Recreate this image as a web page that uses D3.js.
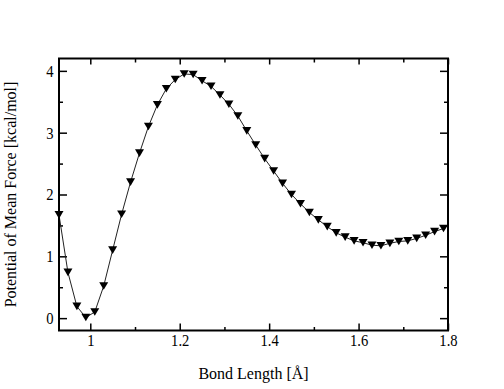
<!DOCTYPE html>
<html>
<head>
<meta charset="utf-8">
<script src="https://cdn.jsdelivr.net/npm/d3@7"></script>
<style>
  body { margin: 0; background: #fff; }
  svg text { font-family: "Liberation Serif", "Times New Roman", Times, serif; fill: #000; }
</style>
</head>
<body>
<svg id="chart" width="504" height="389"></svg>
<script>
// bond length (Å) and potential of mean force (kcal/mol)
const bondLength = [
  0.93, 0.95, 0.97, 0.99, 1.01, 1.03, 1.05, 1.07, 1.09,
  1.11, 1.13, 1.15, 1.17, 1.19, 1.21, 1.23, 1.25, 1.27, 1.29,
  1.31, 1.33, 1.35, 1.37, 1.39, 1.41, 1.43, 1.45, 1.47, 1.49,
  1.51, 1.53, 1.55, 1.57, 1.59, 1.61, 1.63, 1.65, 1.67, 1.69,
  1.71, 1.73, 1.75, 1.77, 1.79
]
const pmf = [
  1.67, 0.74, 0.19, 0.01, 0.10, 0.52, 1.10, 1.68, 2.20,
  2.67, 3.10, 3.45, 3.71, 3.86, 3.95, 3.94, 3.84, 3.75, 3.61,
  3.46, 3.27, 3.03, 2.80, 2.58, 2.38, 2.18, 2.00, 1.85, 1.71,
  1.59, 1.48, 1.38, 1.31, 1.25, 1.22, 1.18, 1.17, 1.21, 1.24,
  1.25, 1.29, 1.34, 1.40, 1.45
]
const xMajorTicks = [1, 1.2, 1.4, 1.6, 1.8]
const xMinorTicks = [1.1, 1.3, 1.5, 1.7]
const yMajorTicks = [0, 1, 2, 3, 4]
const yMinorTicks = [0.5, 1.5, 2.5, 3.5]

const margin = { left: 59, right: 56, top: 58.5, bottom: 58.5 }
const width = 504 - margin.left - margin.right
const height = 389 - margin.top - margin.bottom
const labelStretch = 0.86 // the reference digits are a little narrower than Liberation Serif

const svg = d3.select('#chart')
const plot = svg.append('g').attr('transform', `translate(${margin.left}, ${margin.top})`)

const x = d3.scaleLinear().domain([0.93, 1.8]).range([0, width])
const y = d3.scaleLinear().domain([-0.2, 4.2]).range([height, 0])

// ticks on all four sides, pointing inward
function drawAxis (axisFn, scale, transform, ticks, size, labels) {
  const axis = axisFn(scale).tickValues(ticks).tickSizeInner(-size).tickSizeOuter(0)
  axis.tickFormat(labels ? d3.format('') : '')
  const g = plot.append('g').attr('transform', transform).call(axis)
  g.attr('font-family', null)
  g.select('.domain').remove()
  g.selectAll('line').attr('stroke', '#000').attr('stroke-width', 1.5)
  g.selectAll('text').attr('font-size', 17)
  return g
}

const xAxis = drawAxis(d3.axisBottom, x, `translate(0, ${height})`, xMajorTicks, 7, true)
drawAxis(d3.axisBottom, x, `translate(0, ${height})`, xMinorTicks, 3.5, false)
drawAxis(d3.axisTop, x, 'translate(0, 0)', xMajorTicks, 6, false)
drawAxis(d3.axisTop, x, 'translate(0, 0)', xMinorTicks, 4, false)
const yAxis = drawAxis(d3.axisLeft, y, 'translate(0, 0)', yMajorTicks, 8, true)
drawAxis(d3.axisLeft, y, 'translate(0, 0)', yMinorTicks, 4, false)
drawAxis(d3.axisRight, y, `translate(${width}, 0)`, yMajorTicks, 8, false)
drawAxis(d3.axisRight, y, `translate(${width}, 0)`, yMinorTicks, 4, false)

// labels sit just outside the frame
xAxis.selectAll('.tick text')
  .attr('y', 3)
  .attr('transform', `scale(${labelStretch}, 1)`)
yAxis.selectAll('.tick text')
  .attr('x', -5.5 / labelStretch)
  .attr('transform', `scale(${labelStretch}, 1)`)

const points = bondLength.map((d, i) => ({ x: d, y: pmf[i] }))

plot.append('defs').append('clipPath').attr('id', 'clip')
  .append('rect').attr('width', width).attr('height', height)

const line = d3.line().x(d => x(d.x)).y(d => y(d.y))
plot.append('path')
  .datum(points)
  .attr('clip-path', 'url(#clip)')
  .attr('d', line)
  .attr('fill', 'none')
  .attr('stroke', '#222')
  .attr('stroke-width', 1)

// downward triangle markers
const tri = 'M-4.5,-3.8L4.5,-3.8L0,3.8Z'
plot.append('g')
  .selectAll('path')
  .data(points)
  .join('path')
  .attr('transform', d => `translate(${x(d.x)}, ${y(d.y)})`)
  .attr('d', tri)
  .attr('fill', '#000')

// frame
plot.append('rect')
  .attr('width', width)
  .attr('height', height)
  .attr('fill', 'none')
  .attr('stroke', '#000')
  .attr('stroke-width', 2)

svg.append('text')
  .attr('x', margin.left + width / 2)
  .attr('y', 379)
  .attr('text-anchor', 'middle')
  .attr('font-size', 16)
  .text('Bond Length [Å]')

svg.append('text')
  .attr('transform', `translate(16, ${margin.top + height / 2}) rotate(-90)`)
  .attr('text-anchor', 'middle')
  .attr('font-size', 16)
  .text('Potential of Mean Force [kcal/mol]')
</script>
</body>
</html>
